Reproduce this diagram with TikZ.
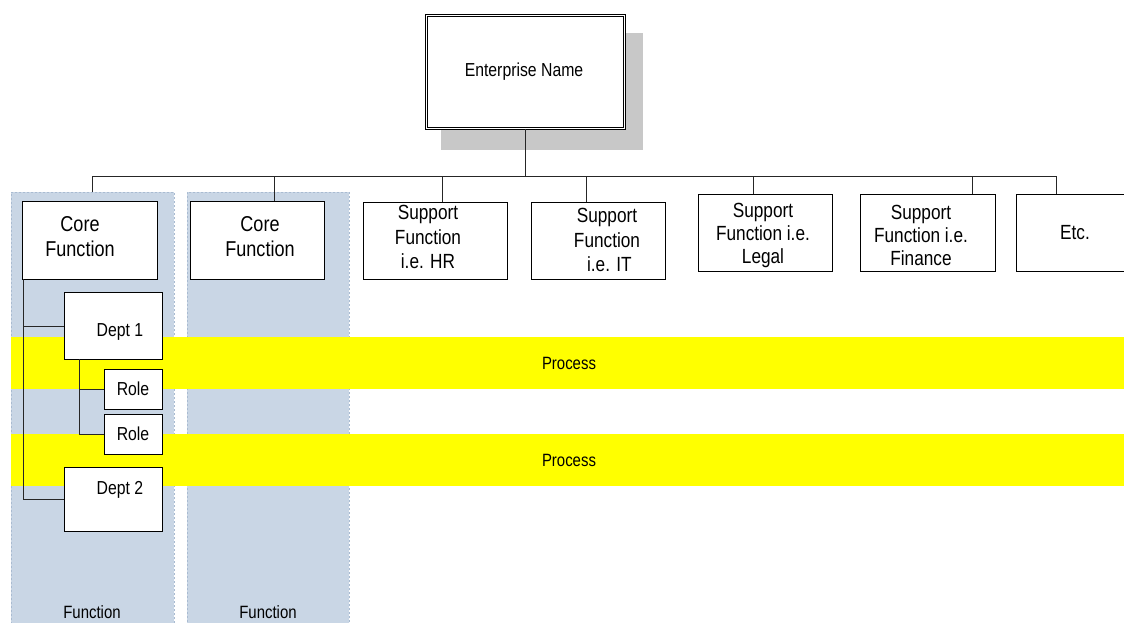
\documentclass[tikz,border=0pt]{standalone}
\usepackage{fontspec}
\setmainfont{Liberation Sans}[FakeStretch=0.84]
\usetikzlibrary{calc}
\definecolor{funcblue}{HTML}{C9D6E5}
\definecolor{funcedge}{HTML}{A9BBD1}
\definecolor{shadowgray}{HTML}{C8C8C8}
\definecolor{procyellow}{HTML}{FFFF00}
\begin{document}
\begin{tikzpicture}[x=1pt,y=-1pt,
  box/.style={draw=black, line width=0.9pt, fill=white, inner sep=0pt, anchor=north west},
  region/.style={fill=funcblue, draw=funcedge, line width=0.7pt, dash pattern=on 2pt off 2pt, inner sep=0pt, anchor=north west},
  band/.style={fill=procyellow, draw=none, inner sep=0pt, anchor=north west},
  conn/.style={draw=black!85, line width=0.9pt},
  big/.style={font=\fontsize{21.5}{25}\selectfont, align=center, inner sep=0pt},
  mid/.style={font=\fontsize{20.5}{24.5}\selectfont, align=center, inner sep=0pt},
  small/.style={font=\fontsize{18.8}{21}\selectfont, align=center, inner sep=0pt},
  tiny/.style={font=\fontsize{17.8}{20}\selectfont, align=center, inner sep=0pt}]
\clip (0,0) rectangle (1124,623);
\fill[white] (0,0) rectangle (1124,623);
% function columns
\node[region, minimum width=163pt, minimum height=440pt] (fn1) at (11,192) {};
\node[region, minimum width=162pt, minimum height=440pt] (fn2) at (187,192) {};
% process bands
\node[band, minimum width=1120pt, minimum height=52pt] (pb1) at (11,337) {};
\node[band, minimum width=1120pt, minimum height=52pt] (pb2) at (11,434) {};
% enterprise with shadow
\fill[shadowgray] (441,33) rectangle (643,150);
\node[box, double, double distance=1.8pt, minimum width=198pt, minimum height=113pt] (ent) at (426,15) {};
% top level boxes
\node[box, minimum width=135pt, minimum height=78pt] (cf1) at (22,201) {};
\node[box, minimum width=134pt, minimum height=78pt] (cf2) at (190,201) {};
\node[box, minimum width=144pt, minimum height=77pt] (hr) at (363,202) {};
\node[box, minimum width=134pt, minimum height=77pt] (it) at (531,202) {};
\node[box, minimum width=134pt, minimum height=77pt] (legal) at (698,194) {};
\node[box, minimum width=135pt, minimum height=77pt] (fin) at (860,194) {};
\node[box, minimum width=114pt, minimum height=77pt] (etc) at (1016,194) {};
% departments and roles
\node[box, minimum width=98pt, minimum height=67pt] (d1) at (64,292) {};
\node[box, minimum width=98pt, minimum height=64pt] (d2) at (64,467) {};
\node[box, minimum width=58pt, minimum height=40pt] (r1) at (104,369) {};
\node[box, minimum width=58pt, minimum height=40pt] (r2) at (104,414) {};
% connectors
\coordinate (busL) at (92.5,176);
\coordinate (busR) at (1056,176);
\coordinate (k2) at (274,176);
\coordinate (k3) at (442,176);
\coordinate (k4) at (586,176);
\coordinate (k5) at (753,176);
\coordinate (k6) at (972,176);
\coordinate (t1) at (23,279);
\coordinate (t2) at (79,359);
\draw[conn] (ent.south) -- (ent.south |- busL);
\draw[conn] (busL) -- (busR);
\draw[conn] (busL) -- (busL |- fn1.north);
\draw[conn] (k2) -- (k2 |- cf2.north);
\draw[conn] (k3) -- (k3 |- hr.north);
\draw[conn] (k4) -- (k4 |- it.north);
\draw[conn] (k5) -- (k5 |- legal.north);
\draw[conn] (k6) -- (k6 |- fin.north);
\draw[conn] (busR) -- (busR |- etc.north);
\draw[conn] (t1) |- (d1.west);
\draw[conn] (t1) |- (d2.west);
\draw[conn] (t2) |- (r1.west);
\draw[conn] (t2) |- (r2.west);
% texts
\node[small] (entT) at (524,72) {Enterprise Name};
\node[big] (cf1T) at (80,237) {Core\\Function};
\node[big] (cf2T) at (260,237) {Core\\Function};
\node[mid] (hrT) at (428,237) {Support\\Function\\i.e. HR};
\node[mid] (itT) at (607,240) {Support\\Function\\\ i.e. IT};
\node[mid, font=\fontsize{20.5}{23}\selectfont] (legalT) at (763,235) {Support\\Function i.e.\\Legal};
\node[mid, font=\fontsize{20.5}{23}\selectfont] (finT) at (921,235) {Support\\Function i.e.\\Finance};
\node[mid] (etcT) at (1075,233) {Etc.};
\node[small] (d1T) at (120,332) {Dept 1};
\node[small] (d2T) at (120,490) {Dept 2};
\node[small] (r1T) at (133,389) {Role};
\node[small] (r2T) at (133,434) {Role};
\node[tiny] (fn1T) at (92,612) {Function};
\node[tiny] (fn2T) at (268,612) {Function};
\node[tiny] (p1T) at (569,363) {Process};
\node[tiny] (p2T) at (569,460) {Process};
\end{tikzpicture}
\end{document}
